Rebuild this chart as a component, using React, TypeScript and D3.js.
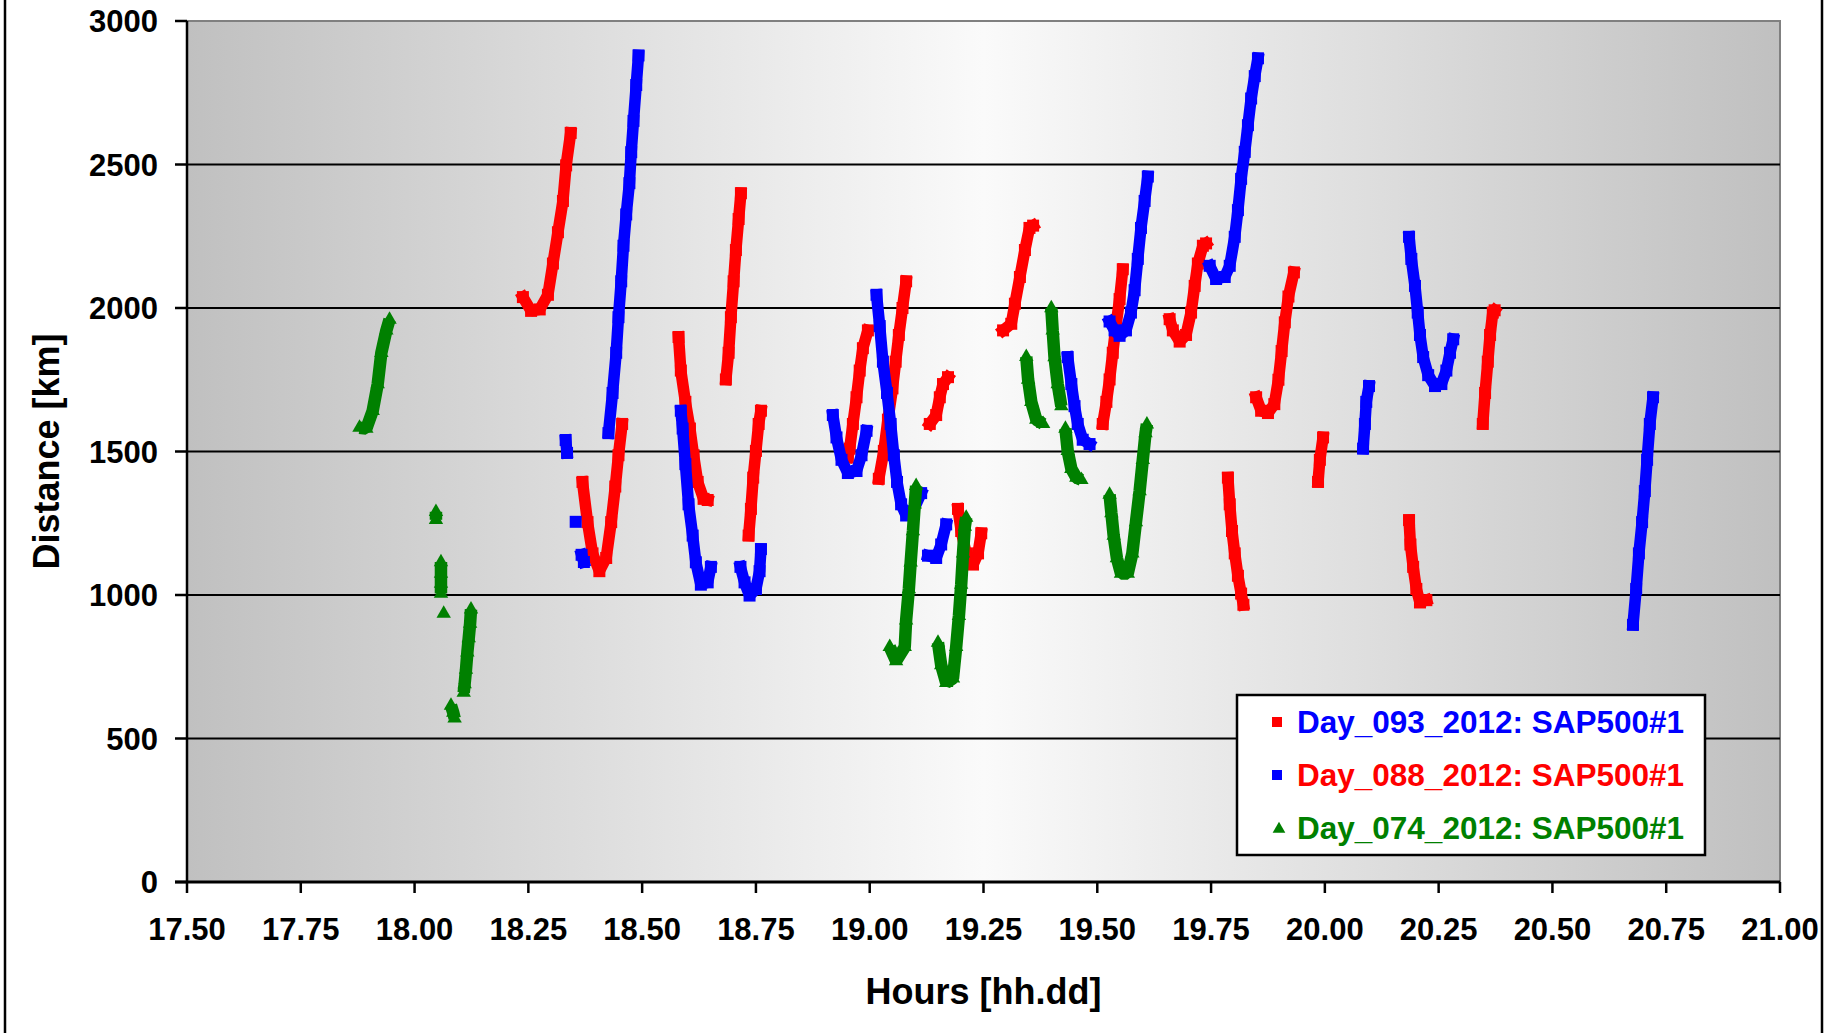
import React from "react";
import * as d3 from "d3";

type Pt = [number, number];

const xTicks = [17.5, 17.75, 18.0, 18.25, 18.5, 18.75, 19.0, 19.25, 19.5, 19.75, 20.0, 20.25, 20.5, 20.75, 21.0];
const yTicks = [0, 500, 1000, 1500, 2000, 2500, 3000];

// Day_093_2012 (red markers)
const day093: Pt[][] = [
  [[18.238, 2038], [18.256, 1990], [18.275, 1995], [18.293, 2046], [18.304, 2155], [18.315, 2264], [18.326, 2373], [18.333, 2497], [18.343, 2610]],
  [[18.369, 1394], [18.380, 1254], [18.391, 1145], [18.406, 1083], [18.421, 1129], [18.432, 1254], [18.441, 1378], [18.448, 1487], [18.456, 1596]],
  [[18.580, 1899], [18.585, 1782], [18.595, 1673], [18.605, 1580], [18.613, 1487], [18.622, 1394], [18.635, 1335], [18.644, 1331]],
  [[18.684, 1751], [18.690, 1844], [18.695, 1968], [18.701, 2093], [18.706, 2202], [18.712, 2310], [18.717, 2400]],
  [[18.734, 1207], [18.739, 1300], [18.744, 1409], [18.750, 1502], [18.756, 1596], [18.761, 1642]],
  [[18.952, 1480], [18.956, 1510], [18.963, 1596], [18.971, 1689], [18.978, 1782], [18.985, 1860], [18.996, 1922]],
  [[19.020, 1405], [19.031, 1502], [19.040, 1611], [19.050, 1720], [19.057, 1813], [19.064, 1906], [19.072, 2000], [19.080, 2093]],
  [[19.132, 1596], [19.146, 1627], [19.154, 1689], [19.161, 1735], [19.172, 1759]],
  [[19.194, 1300], [19.201, 1223], [19.212, 1145], [19.227, 1106], [19.238, 1145], [19.245, 1215]],
  [[19.293, 1922], [19.311, 1945], [19.319, 2015], [19.330, 2108], [19.341, 2202], [19.351, 2279], [19.359, 2287]],
  [[19.512, 1596], [19.520, 1673], [19.527, 1751], [19.534, 1844], [19.541, 1937], [19.549, 2031], [19.556, 2135]],
  [[19.659, 1961], [19.666, 1922], [19.681, 1883], [19.695, 1906], [19.706, 1984], [19.714, 2077], [19.721, 2155], [19.732, 2217], [19.739, 2225]],
  [[19.787, 1409], [19.791, 1316], [19.796, 1223], [19.802, 1145], [19.809, 1067], [19.816, 1005], [19.821, 966]],
  [[19.849, 1689], [19.860, 1642], [19.875, 1634], [19.889, 1665], [19.898, 1750], [19.905, 1850], [19.912, 1950], [19.920, 2040], [19.932, 2124]],
  [[19.985, 1394], [19.989, 1471], [19.996, 1549]],
  [[20.185, 1261], [20.188, 1176], [20.194, 1098], [20.201, 1021], [20.209, 974], [20.223, 982]],
  [[20.347, 1596], [20.352, 1704], [20.358, 1813], [20.363, 1906], [20.369, 1984], [20.373, 1992]],
];

// Day_088_2012 (blue markers)
const day088: Pt[][] = [
  [[18.332, 1540], [18.335, 1495]],
  [[18.354, 1255]],
  [[18.367, 1140], [18.372, 1115]],
  [[18.426, 1564], [18.435, 1704], [18.443, 1844], [18.448, 1968], [18.454, 2093], [18.459, 2217], [18.465, 2326], [18.472, 2435], [18.476, 2543], [18.481, 2652], [18.487, 2777], [18.492, 2880]],
  [[18.585, 1642], [18.589, 1580], [18.595, 1456], [18.602, 1316], [18.611, 1207], [18.618, 1114], [18.629, 1036], [18.644, 1044], [18.651, 1098]],
  [[18.716, 1098], [18.725, 1044], [18.736, 998], [18.750, 1021], [18.758, 1083], [18.761, 1160]],
  [[18.919, 1627], [18.927, 1549], [18.938, 1471], [18.952, 1425], [18.971, 1432], [18.982, 1487], [18.993, 1572]],
  [[19.015, 2046], [19.022, 1937], [19.029, 1813], [19.038, 1704], [19.046, 1596], [19.053, 1487], [19.060, 1394], [19.069, 1316], [19.080, 1277], [19.095, 1292], [19.113, 1355]],
  [[19.128, 1137], [19.146, 1129], [19.157, 1176], [19.168, 1246]],
  [[19.435, 1829], [19.443, 1735], [19.450, 1658], [19.457, 1596], [19.468, 1541], [19.483, 1526]],
  [[19.527, 1953], [19.538, 1922], [19.549, 1903], [19.563, 1922], [19.574, 1984], [19.582, 2062], [19.589, 2171], [19.596, 2279], [19.604, 2373], [19.611, 2458]],
  [[19.747, 2147], [19.761, 2101], [19.780, 2108], [19.791, 2147], [19.802, 2248], [19.809, 2341], [19.816, 2450], [19.824, 2544], [19.831, 2637], [19.838, 2730], [19.846, 2808], [19.853, 2870]],
  [[20.084, 1510], [20.088, 1596], [20.091, 1673], [20.097, 1728]],
  [[20.185, 2248], [20.190, 2171], [20.198, 2077], [20.204, 1984], [20.209, 1906], [20.216, 1829], [20.227, 1766], [20.242, 1728], [20.256, 1735], [20.267, 1782], [20.275, 1844], [20.282, 1891]],
  [[20.677, 896], [20.684, 1021], [20.690, 1145], [20.697, 1254], [20.703, 1362], [20.708, 1471], [20.714, 1596], [20.721, 1689]],
];

// Day_074_2012 (green markers)
const day074: Pt[][] = [
  [[17.879, 1583], [17.894, 1580], [17.908, 1642], [17.919, 1735], [17.927, 1844], [17.938, 1922], [17.945, 1960]],
  [[18.047, 1290], [18.047, 1262]],
  [[18.058, 1115], [18.058, 1075], [18.058, 1040], [18.058, 1005]],
  [[18.064, 935]],
  [[18.124, 950], [18.122, 900], [18.119, 850], [18.116, 800], [18.113, 740], [18.110, 690], [18.108, 660]],
  [[18.080, 615], [18.085, 590], [18.088, 570]],
  [[19.044, 819], [19.058, 770], [19.077, 819], [19.080, 912], [19.086, 1021], [19.090, 1114], [19.095, 1223], [19.099, 1316], [19.102, 1380]],
  [[19.150, 834], [19.157, 756], [19.168, 694], [19.183, 710], [19.190, 819], [19.196, 927], [19.201, 1036], [19.205, 1145], [19.209, 1238], [19.212, 1270]],
  [[19.344, 1830], [19.348, 1751], [19.355, 1673], [19.366, 1611], [19.381, 1596]],
  [[19.399, 2000], [19.402, 1922], [19.406, 1829], [19.413, 1735], [19.421, 1658]],
  [[19.430, 1580], [19.435, 1502], [19.443, 1440], [19.454, 1409], [19.465, 1401]],
  [[19.527, 1350], [19.531, 1285], [19.536, 1207], [19.543, 1129], [19.552, 1075], [19.567, 1075], [19.577, 1145], [19.585, 1254], [19.593, 1362], [19.600, 1471], [19.606, 1564], [19.609, 1595]],
];

const legendItems = [
  { label: "Day_093_2012: SAP500#1", marker: "#FF0000", text: "#0000FF", shape: "square" },
  { label: "Day_088_2012: SAP500#1", marker: "#0000FF", text: "#FF0000", shape: "square" },
  { label: "Day_074_2012: SAP500#1", marker: "#008000", text: "#008000", shape: "triangle" },
];

const W = 1839;
const H = 1033;
const PL = 187;
const PR = 1780;
const PT = 21;
const PB = 882;
const FONT = "'Liberation Sans', Arial, Helvetica, sans-serif";

export default function App() {
  const x = d3.scaleLinear().domain([17.5, 21]).range([PL, PR]);
  const y = d3.scaleLinear().domain([0, 3000]).range([PB, PT]);
  const line = d3.line<Pt>().x((d) => x(d[0])).y((d) => y(d[1]));
  const tri = d3.symbol().type(d3.symbolTriangle).size(90)();
  const triLegend = d3.symbol().type(d3.symbolTriangle).size(70)();

  const series = [
    { data: day093, color: "#FF0000", shape: "square" },
    { data: day088, color: "#0000FF", shape: "square" },
    { data: day074, color: "#008000", shape: "triangle" },
  ];

  return (
    <svg
      width={W}
      height={H}
      style={{ position: "absolute", left: 0, top: 0, background: "#ffffff" }}
      fontFamily={FONT}
    >
      <defs>
        <linearGradient id="bg" x1="0" y1="0" x2="1" y2="0">
          <stop offset="0%" stopColor="#c0c0c0" />
          <stop offset="50%" stopColor="#fafafa" />
          <stop offset="100%" stopColor="#c0c0c0" />
        </linearGradient>
        <clipPath id="plotClip">
          <rect x={PL} y={PT - 10} width={PR - PL} height={PB - PT + 10} />
        </clipPath>
      </defs>

      {/* figure border */}
      <line x1={5} y1={0} x2={5} y2={H} stroke="#000" strokeWidth={2.5} />
      <line x1={1822} y1={0} x2={1822} y2={H} stroke="#000" strokeWidth={2.5} />

      {/* plot area */}
      <rect x={PL} y={PT} width={PR - PL} height={PB - PT} fill="url(#bg)" stroke="#808080" strokeWidth={2} />

      {/* gridlines */}
      {yTicks.filter((t) => t > 0 && t < 3000).map((t) => (
        <line key={"g" + t} x1={PL} x2={PR} y1={y(t)} y2={y(t)} stroke="#000" strokeWidth={2.2} />
      ))}

      {/* series */}
      <g clipPath="url(#plotClip)">
        {series.map((s, si) => (
          <g key={"s" + si}>
            {s.data.map((seg, gi) =>
              seg.length > 1 ? (
                <path
                  key={"l" + gi}
                  d={line(seg) || ""}
                  fill="none"
                  stroke={s.color}
                  strokeWidth={s.shape === "square" ? 11.5 : 12.5}
                  strokeLinecap={s.shape === "square" ? "square" : "butt"}
                  strokeLinejoin="bevel"
                />
              ) : null
            )}
            {s.data.map((seg, gi) =>
              seg.map((d, pi) =>
                s.shape === "square" ? (
                  <rect key={"m" + gi + "_" + pi} x={x(d[0]) - 6} y={y(d[1]) - 6} width={12} height={12} fill={s.color} />
                ) : (
                  <path key={"m" + gi + "_" + pi} d={tri || ""} transform={`translate(${x(d[0])},${y(d[1])})`} fill={s.color} />
                )
              )
            )}
          </g>
        ))}
      </g>

      {/* axes */}
      <line x1={PL} x2={PL} y1={PT} y2={PB} stroke="#000" strokeWidth={2.5} />
      <line x1={PL - 12} x2={PR} y1={PB} y2={PB} stroke="#000" strokeWidth={3} />
      {yTicks.map((t) => (
        <g key={"yt" + t}>
          <line x1={PL - 12} x2={PL} y1={y(t)} y2={y(t)} stroke="#000" strokeWidth={2.5} />
          <text x={158} y={y(t) + 11} textAnchor="end" fontSize={31} fontWeight="bold" fill="#000">
            {t}
          </text>
        </g>
      ))}
      {xTicks.map((t) => (
        <g key={"xt" + t}>
          <line x1={x(t)} x2={x(t)} y1={PB} y2={PB + 11} stroke="#000" strokeWidth={2.5} />
          <text x={x(t)} y={940} textAnchor="middle" fontSize={31} fontWeight="bold" fill="#000">
            {t.toFixed(2)}
          </text>
        </g>
      ))}

      {/* axis titles */}
      <text x={(PL + PR) / 2} y={1004} textAnchor="middle" fontSize={36} fontWeight="bold" fill="#000">
        Hours [hh.dd]
      </text>
      <text
        transform={`translate(59, ${(PT + PB) / 2}) rotate(-90)`}
        textAnchor="middle"
        fontSize={36}
        fontWeight="bold"
        fill="#000"
      >
        Distance [km]
      </text>

      {/* legend */}
      <rect x={1237} y={695} width={468} height={160} fill="#ffffff" stroke="#000" strokeWidth={2.5} />
      {legendItems.map((it, i) => {
        const cy = 722 + i * 53;
        return (
          <g key={"lg" + i}>
            {it.shape === "square" ? (
              <rect x={1272} y={cy - 5} width={10} height={10} fill={it.marker} />
            ) : (
              <path d={triLegend || ""} transform={`translate(1279,${cy + 1})`} fill={it.marker} />
            )}
            <text x={1297} y={cy + 11} fontSize={31.5} fontWeight="bold" fill={it.text}>
              {it.label}
            </text>
          </g>
        );
      })}
    </svg>
  );
}
